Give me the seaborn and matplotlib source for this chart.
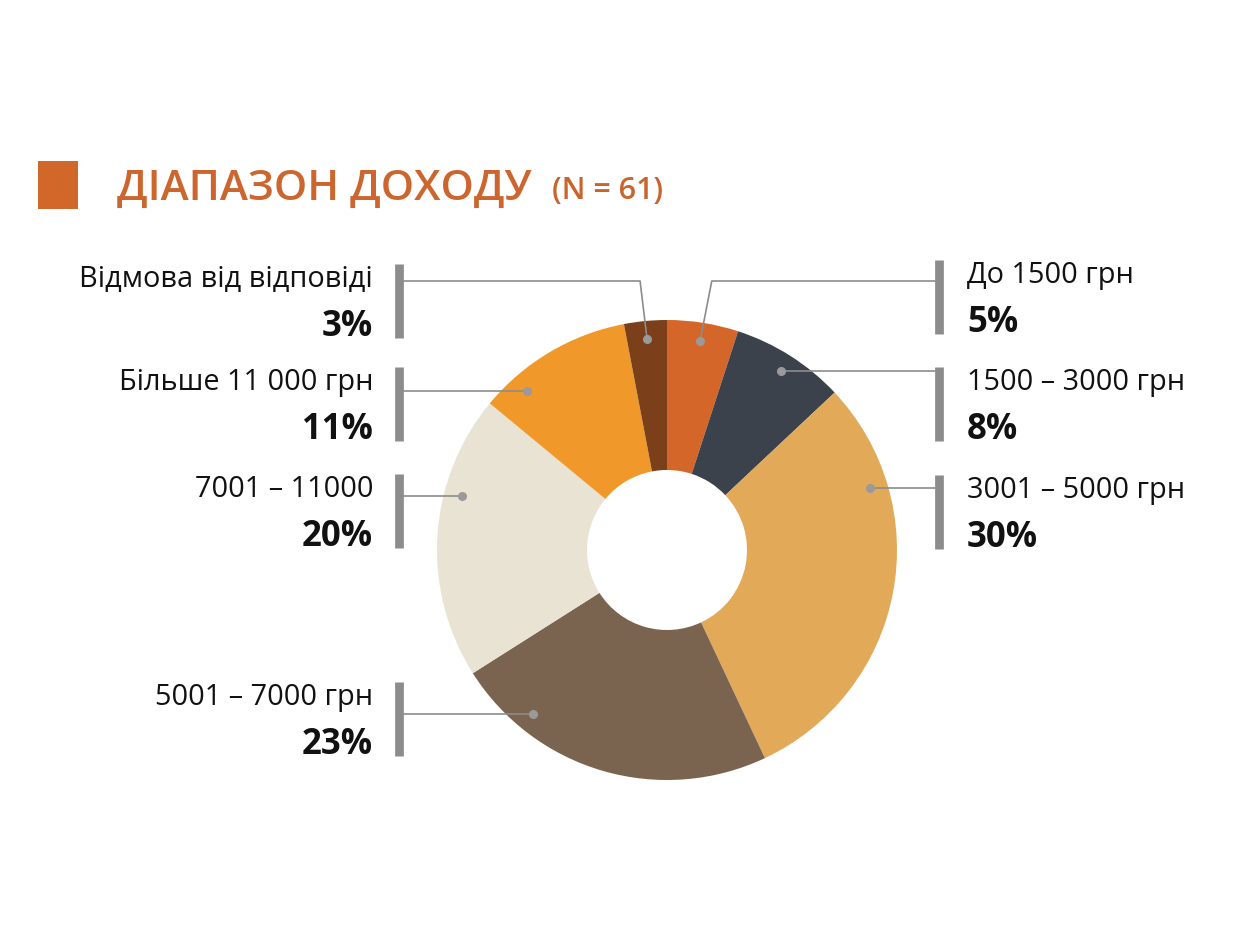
import matplotlib
matplotlib.use("Agg")
import numpy as np
import matplotlib.pyplot as plt
import seaborn as sns

# дані
categories = ["До 1500 грн", "1500 – 3000 грн", "3001 – 5000 грн", "5001 – 7000 грн",
              "7001 – 11000", "Більше 11 000 грн", "Відмова від відповіді"]
shares = [5, 8, 30, 23, 20, 11, 3]
pct_labels = ["5%", "8%", "30%", "23%", "20%", "11%", "3%"]
slice_colors = ["#D4662A", "#3C424B", "#E2AA58", "#7A6450", "#E8E3D2", "#F0992A", "#7B3F1A"]

title = "ДІАПАЗОН ДОХОДУ"
subtitle = "(N = 61)"

sns.set_theme(style="white")
plt.rcParams["font.family"] = ["Open Sans", "DejaVu Sans"]
palette = sns.color_palette(slice_colors)

W, H = 1250, 937
fig = plt.figure(figsize=(12.5, 9.37), dpi=100)
ax = fig.add_axes([0, 0, 1, 1])

def Y(y):
    return H - y

cx, cy = 667, Y(551)
R, r_in = 230, 80

wedges, _ = ax.pie(shares, colors=palette, startangle=90, counterclock=False,
                   radius=R, center=(cx, cy),
                   wedgeprops=dict(width=R - r_in, linewidth=0))
ax.set_xlim(0, W)
ax.set_ylim(0, H)
ax.set_aspect("equal")
ax.axis("off")

# розкладка підписів: сторона, базова лінія тексту, висота виноски (px від верху)
layout = {
    "До 1500 грн": ("R", 283, 282),
    "1500 – 3000 грн": ("R", 390, 372),
    "3001 – 5000 грн": ("R", 498, 489),
    "5001 – 7000 грн": ("L", 705, 715),
    "7001 – 11000": ("L", 497, 497),
    "Більше 11 000 грн": ("L", 390, 392),
    "Відмова від відповіді": ("L", 287, 282),
}

line_col = "#8C8C8C"
r_dot = 212
for w, cat, pct in zip(wedges, categories, pct_labels):
    side, base, ly = layout[cat]
    if side == "R":
        bar_x, tx, ha = 939, 967, "left"
    else:
        bar_x, tx, ha = 399, 373, "right"
    ax.text(tx, Y(base), cat, ha=ha, va="baseline", fontsize=20.8, color="#111111")
    ax.text(tx, Y(base + 49), pct, ha=ha, va="baseline", fontsize=25,
            fontweight="bold", color="#111111")
    ax.plot([bar_x, bar_x], [Y(base - 22), Y(base + 52)], color=line_col,
            lw=6.3, solid_capstyle="butt")

    # точка на сегменті
    dy = Y(ly) - cy
    th1, th2 = sorted([w.theta1, w.theta2])
    line_x0 = bar_x + (-4 if side == "R" else 4)
    hit = None
    if abs(dy) < r_dot:
        dx = np.sqrt(r_dot ** 2 - dy ** 2) * (1 if side == "R" else -1)
        ang = np.degrees(np.arctan2(dy, dx))
        if (ang - th1) % 360 <= th2 - th1:
            hit = (cx + dx, cy + dy)
    if hit is not None:
        ax.plot([line_x0, hit[0]], [Y(ly), hit[1]], color=line_col, lw=1.2)
        ax.plot(*hit, "o", color="#9A9A9A", ms=5.5)
    else:
        mid = np.radians((w.theta1 + w.theta2) / 2)
        px, py = cx + r_dot * np.cos(mid), cy + r_dot * np.sin(mid)
        bend = px + 0.35 * (px - cx)
        ax.plot([line_x0, bend, px], [Y(ly), Y(ly), py], color=line_col, lw=1.2)
        ax.plot(px, py, "o", color="#9A9A9A", ms=5.5)

# заголовок
ax.add_patch(plt.Rectangle((38, Y(210)), 40, 48, color="#D2672A", lw=0))
ax.text(117, Y(200), title, ha="left", va="baseline", fontsize=30.5,
        fontweight="semibold", color="#CC662E")
ax.text(552, Y(199), subtitle, ha="left", va="baseline", fontsize=22,
        fontweight="semibold", color="#C9642E")

fig.savefig("out.png", dpi=100, facecolor="white")
